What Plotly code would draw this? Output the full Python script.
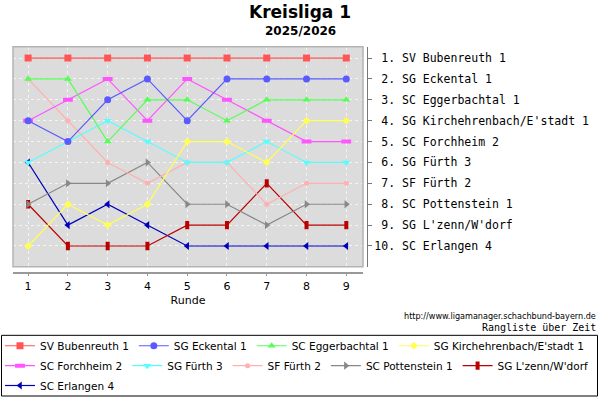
import plotly.graph_objects as go

# Rangliste je Runde (Platz nach Runde 1..9)
rounds = [1, 2, 3, 4, 5, 6, 7, 8, 9]

teams = [
    "SV Bubenreuth 1",
    "SG Eckental 1",
    "SC Eggerbachtal 1",
    "SG Kirchehrenbach/E'stadt 1",
    "SC Forchheim 2",
    "SG Fürth 3",
    "SF Fürth 2",
    "SC Pottenstein 1",
    "SG L'zenn/W'dorf",
    "SC Erlangen 4",
]

bubenreuth = [1, 1, 1, 1, 1, 1, 1, 1, 1]
eckental = [4, 5, 3, 2, 4, 2, 2, 2, 2]
eggerbachtal = [2, 2, 5, 3, 3, 4, 3, 3, 3]
kirchehrenbach = [10, 8, 9, 8, 5, 5, 6, 4, 4]
forchheim = [4, 3, 2, 4, 2, 3, 4, 5, 5]
fuerth3 = [6, 5, 4, 5, 6, 6, 5, 6, 6]
sf_fuerth = [2, 4, 6, 7, 6, 6, 8, 7, 7]
pottenstein = [8, 7, 7, 6, 8, 8, 9, 8, 8]
lzenn = [8, 10, 10, 10, 9, 9, 7, 9, 9]
erlangen = [6, 9, 8, 9, 10, 10, 10, 10, 10]

ranks = [bubenreuth, eckental, eggerbachtal, kirchehrenbach, forchheim,
         fuerth3, sf_fuerth, pottenstein, lzenn, erlangen]

final_labels = [
    "\u00a01. SV Bubenreuth 1",
    "\u00a02. SG Eckental 1",
    "\u00a03. SC Eggerbachtal 1",
    "\u00a04. SG Kirchehrenbach/E'stadt 1",
    "\u00a05. SC Forchheim 2",
    "\u00a06. SG Fürth 3",
    "\u00a07. SF Fürth 2",
    "\u00a08. SC Pottenstein 1",
    "\u00a09. SG L'zenn/W'dorf",
    "10. SC Erlangen 4",
]

colors = ["#ff5555", "#5a5aff", "#55ff55", "#ffff55", "#ff55ff",
          "#55ffff", "#ffb0b0", "#888888", "#bb0000", "#0000bb"]
symbols = ["square", "circle", "triangle-up", "diamond", "line-ew",
           "triangle-down", "circle", "triangle-right", "line-ns", "triangle-left"]
sizes = [7, 7, 7, 6, 7, 7, 5, 7, 6, 7]
legend_rows = ["legend", "legend", "legend", "legend",
               "legend2", "legend2", "legend2", "legend2", "legend2",
               "legend3"]

fig = go.Figure()

# JpGraph draws the first series on top, so add in reverse
for i in reversed(range(len(teams))):
    line_sym = symbols[i].startswith("line")
    fig.add_trace(go.Scatter(
        x=rounds,
        y=ranks[i],
        mode="lines+markers",
        name=teams[i],
        legend=legend_rows[i],
        legendrank=i,
        line=dict(color=colors[i], width=1.2),
        marker=dict(symbol=symbols[i], size=sizes[i], color=colors[i],
                    line=dict(color=colors[i], width=4 if line_sym else 0)),
    ))

fig.update_layout(
    width=600,
    height=400,
    margin=dict(l=0, r=0, t=0, b=0),
    paper_bgcolor="white",
    plot_bgcolor="#dcdcdc",
    font=dict(family="DejaVu Sans", size=11, color="black"),
    xaxis=dict(
        domain=[13 / 600, 363 / 600],
        range=[0.62, 9.42],
        tickvals=rounds,
        anchor="free",
        position=1 - 274 / 400,
        showline=True,
        linecolor="#999999",
        linewidth=1.5,
        ticks="outside",
        ticklen=3,
        tickcolor="#999999",
        showgrid=True,
        gridcolor="#f4f4f4",
        griddash="3px,3px",
        zeroline=False,
        title=dict(text="Runde", font=dict(size=11), standoff=4),
    ),
    yaxis=dict(
        domain=[1 - 268 / 400, 1 - 47 / 400],
        range=[10.99, 0.46],
        tickvals=list(range(1, 11)),
        ticktext=final_labels,
        tickfont=dict(family="DejaVu Sans Mono", size=11.5),
        side="right",
        anchor="free",
        position=367 / 600,
        showline=True,
        linecolor="#777777",
        linewidth=1,
        ticks="outside",
        ticklen=4,
        tickcolor="#777777",
        showgrid=True,
        gridcolor="#f4f4f4",
        griddash="3px,3px",
        zeroline=False,
    ),
    shapes=[
        dict(type="rect", xref="x domain", yref="y domain",
             x0=0, x1=1, y0=0, y1=1,
             line=dict(color="#b4b4b4", width=1.5)),
        dict(type="rect", xref="paper", yref="paper",
             x0=1.5 / 600, x1=597.5 / 600, y0=1 - 398 / 400, y1=1 - 337 / 400,
             line=dict(color="black", width=1)),
    ],
    annotations=[
        dict(text="<b>Kreisliga 1</b>", x=0.5, y=1 - 12 / 400, xref="paper", yref="paper",
             showarrow=False, font=dict(size=17), xanchor="center", yanchor="middle"),
        dict(text="<b>2025/2026</b>", x=0.5, y=1 - 31 / 400, xref="paper", yref="paper",
             showarrow=False, font=dict(size=12), xanchor="center", yanchor="middle"),
        dict(text="http://www.ligamanager.schachbund-bayern.de", x=598 / 600, y=1 - 318 / 400,
             xref="paper", yref="paper", showarrow=False, font=dict(size=9, family="DejaVu Sans Condensed"),
             xanchor="right", yanchor="middle"),
        dict(text="Rangliste über Zeit", x=598 / 600, y=1 - 329 / 400,
             xref="paper", yref="paper", showarrow=False, font=dict(size=10, family="DejaVu Sans Mono"),
             xanchor="right", yanchor="middle"),
    ],
)

legend_style = dict(orientation="h", xanchor="left", yanchor="middle", x=0.0,
                    bgcolor="rgba(0,0,0,0)", borderwidth=0,
                    font=dict(size=10.5), itemwidth=30, traceorder="normal")
fig.update_layout(
    legend=dict(legend_style, y=1 - 347.5 / 400),
    legend2=dict(legend_style, y=1 - 367.5 / 400),
    legend3=dict(legend_style, y=1 - 387.5 / 400),
)

# the page has a default 8px body margin; drop it so the chart sits at 0,0
fig.write_html("out.html", config={"displayModeBar": False},
               post_script="document.body.style.margin='0';")
